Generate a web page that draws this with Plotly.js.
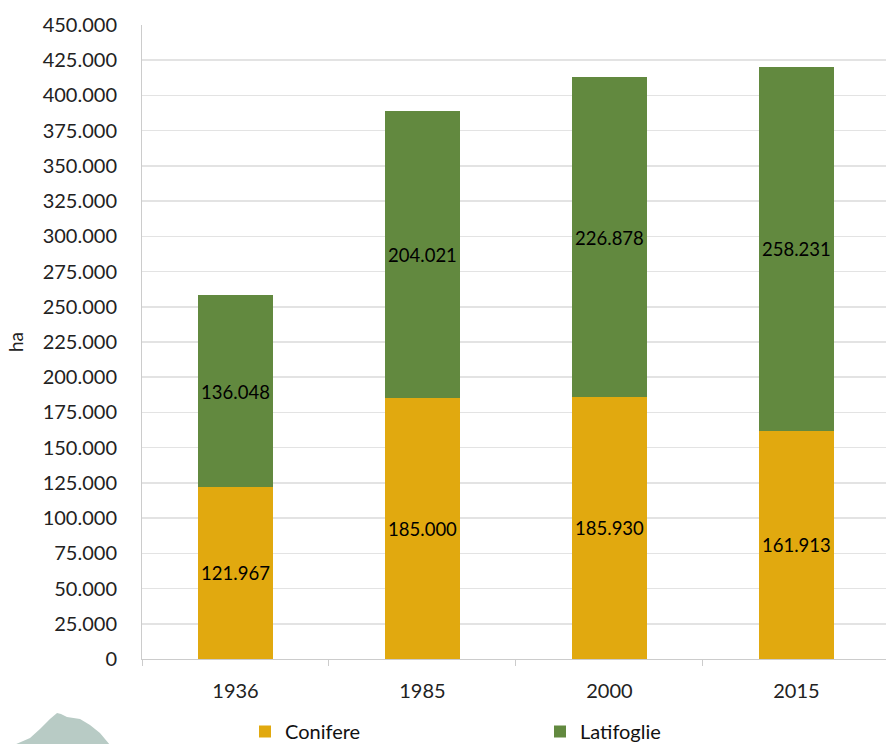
<!DOCTYPE html>
<html>
<head>
<meta charset="utf-8">
<script src="https://cdn.plot.ly/plotly-3.0.1.min.js"></script>
<style>
  html, body { margin: 0; padding: 0; background: #ffffff; overflow: hidden; }
  #chart { width: 886px; height: 744px; }
</style>
</head>
<body>
<div id="chart"></div>
<script>
// Superficie forestale per tipo (ha)
const anni = ['1936', '1985', '2000', '2015'];
const conifere = [121967, 185000, 185930, 161913];
const latifoglie = [136048, 204021, 226878, 258231];
const yTicks = [0, 25000, 50000, 75000, 100000, 125000, 150000, 175000, 200000,
                225000, 250000, 275000, 300000, 325000, 350000, 375000, 400000, 425000, 450000];

const FONT = 'Lato, "Open Sans", sans-serif';
const labelFont = { family: FONT, size: 20, color: '#000000' };

const traces = [
  {
    type: 'bar', name: 'Conifere', x: anni, y: conifere,
    marker: { color: '#E1A90F' },
    texttemplate: '%{y:,.0f}', textposition: 'inside', insidetextanchor: 'middle',
    textfont: labelFont, textangle: 0, hoverinfo: 'x+y+name'
  },
  {
    type: 'bar', name: 'Latifoglie', x: anni, y: latifoglie,
    marker: { color: '#62893F' },
    texttemplate: '%{y:,.0f}', textposition: 'inside', insidetextanchor: 'middle',
    textfont: labelFont, textangle: 0, hoverinfo: 'x+y+name'
  }
];

// convert a pixel position on the page to paper coordinates of the plot area
const L = 142, T = 25, W = 744, H = 634;
const px = (x) => (x - L) / W;
const py = (y) => (T + H - y) / H;
const hill = [[14,745],[30,738],[40,729],[50,719],[57,713],[61,714],[67,717],[80,719],[90,725],[100,733],[110,745]];
const hillPath = hill.map((p, i) => (i ? 'L' : 'M') + px(p[0]).toFixed(4) + ',' + py(p[1]).toFixed(4)).join(' ') + ' Z';

const layout = {
  width: 886, height: 744,
  margin: { l: L, r: 0, t: T, b: 744 - T - H, pad: 0, autoexpand: false },
  paper_bgcolor: '#ffffff', plot_bgcolor: '#ffffff',
  separators: ',.',
  barmode: 'stack',
  bargap: 0.6,
  font: { family: FONT, size: 20, color: '#222222' },
  showlegend: true,
  legend: {
    orientation: 'h', x: px(245), xanchor: 'left', y: py(751), yanchor: 'bottom',
    font: { family: FONT, size: 20, color: '#111111' },
    entrywidth: 250, entrywidthmode: 'pixels', traceorder: 'normal',
    bgcolor: 'rgba(0,0,0,0)'
  },
  xaxis: {
    type: 'category', range: [-0.5, 3.479], automargin: false,
    showgrid: false, zeroline: false,
    showline: true, linecolor: '#cccccc', linewidth: 1,
    ticks: 'outside', tickson: 'boundaries', ticklen: 6, tickcolor: '#cccccc',
    ticklabelstandoff: 14,
    tickfont: { family: FONT, size: 20, color: '#222222' }
  },
  yaxis: {
    range: [0, 450000], tickvals: yTicks, tickformat: ',d', automargin: false,
    showgrid: true, gridcolor: '#e3e3e3', gridwidth: 1.5,
    zeroline: false, showline: true, linecolor: '#cccccc', linewidth: 1,
    ticks: '', ticklabelstandoff: 20,
    tickfont: { family: FONT, size: 20, color: '#222222' },
    title: { text: 'ha', standoff: 14, font: { family: FONT, size: 19, color: '#222222' } }
  },
  shapes: [
    { type: 'path', xref: 'paper', yref: 'paper', path: hillPath,
      fillcolor: '#b8cbc5', line: { width: 0 }, layer: 'below' }
  ]
};

Plotly.newPlot('chart', traces, layout, { displayModeBar: false, staticPlot: true });
</script>
</body>
</html>
